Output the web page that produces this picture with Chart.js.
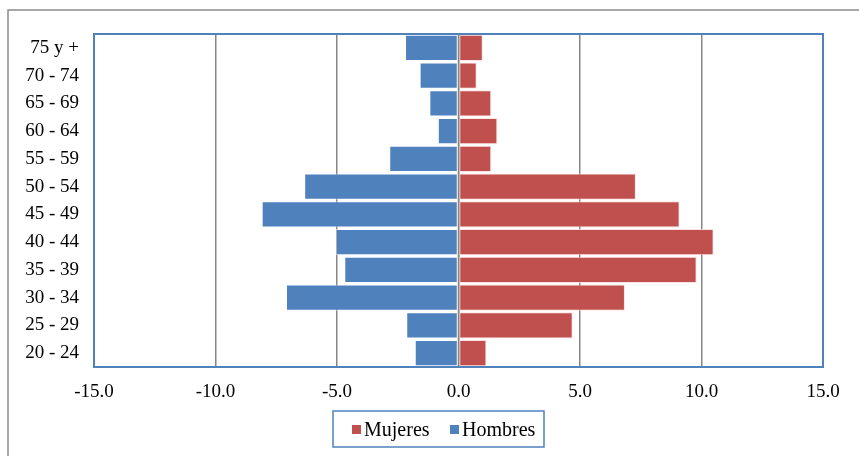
<!DOCTYPE html>
<html>
<head>
<meta charset="utf-8">
<script src="https://cdn.jsdelivr.net/npm/chart.js@4.4.1/dist/chart.umd.min.js"></script>
<style>
  html, body { margin: 0; padding: 0; background: #fff; }
  #wrap { width: 859px; height: 456px; }
</style>
</head>
<body>
<div id="wrap"><canvas id="pyramid"></canvas></div>
<script>
// age groups, top to bottom
const ageGroups = ['75 y +', '70 - 74', '65 - 69', '60 - 64', '55 - 59', '50 - 54',
                   '45 - 49', '40 - 44', '35 - 39', '30 - 34', '25 - 29', '20 - 24'];
// percentages (men shown negative)
const hombres = [-2.2, -1.6, -1.2, -0.85, -2.85, -6.35, -8.1, -5.05, -4.7, -7.1, -2.15, -1.8];
const mujeres = [1.0, 0.75, 1.35, 1.6, 1.35, 7.3, 9.1, 10.5, 9.8, 6.85, 4.7, 1.15];
const xTicks = [-15, -10, -5, 0, 5, 10, 15];

const RED = '#C0504D';
const BLUE = '#4F81BD';
const FONT = '"Liberation Serif", "Times New Roman", serif';

// frame, plot border, zero line and the boxed legend
const decorations = {
    id: 'decorations',
    afterDatasetsDraw(chart) {
        const ctx = chart.ctx;
        const a = chart.chartArea;
        const x0 = chart.scales.x.getPixelForValue(0);
        ctx.save();
        ctx.strokeStyle = '#868686';
        ctx.lineWidth = 1.5;
        ctx.beginPath();
        ctx.moveTo(x0, a.top);
        ctx.lineTo(x0, a.bottom);
        ctx.stroke();
        ctx.strokeStyle = BLUE;
        ctx.lineWidth = 2;
        ctx.strokeRect(a.left, a.top, a.right - a.left, a.bottom - a.top);
        ctx.restore();
    },
    afterDraw(chart) {
        const ctx = chart.ctx;
        ctx.save();
        // outer frame
        ctx.strokeStyle = '#8a8a8a';
        ctx.lineWidth = 1.5;
        ctx.strokeRect(8, 10, 880, 480);
        // legend box
        ctx.strokeStyle = BLUE;
        ctx.lineWidth = 1.5;
        ctx.strokeRect(333, 411, 211, 36);
        ctx.font = '20px ' + FONT;
        ctx.textBaseline = 'middle';
        const items = [chart.data.datasets[1], chart.data.datasets[0]];
        const starts = [352, 450];
        items.forEach((ds, i) => {
            const x = starts[i];
            ctx.fillStyle = ds.backgroundColor;
            ctx.fillRect(x, 425, 9, 9);
            ctx.fillStyle = '#000';
            ctx.fillText(ds.label, x + 12, 431);
        });
        ctx.restore();
    }
};

const ctx = document.getElementById('pyramid').getContext('2d');
new Chart(ctx, {
    type: 'bar',
    data: {
        labels: ageGroups,
        datasets: [{
            label: 'Hombres',
            data: hombres,
            backgroundColor: BLUE,
            borderColor: 'rgba(255,255,255,0.6)',
            borderWidth: 1,
            borderSkipped: false
        }, {
            label: 'Mujeres',
            data: mujeres,
            backgroundColor: RED,
            borderColor: 'rgba(255,220,220,0.8)',
            borderWidth: 1,
            borderSkipped: false
        }]
    },
    options: {
        indexAxis: 'y',
        responsive: true,
        maintainAspectRatio: false,
        animation: false,
        devicePixelRatio: 1,
        layout: { padding: { top: 34, right: 36, bottom: 49, left: 0 } },
        datasets: { bar: { barPercentage: 0.94, categoryPercentage: 1 } },
        plugins: { legend: { display: false }, tooltip: { enabled: false } },
        scales: {
            x: {
                min: -15,
                max: 15,
                afterFit: s => { s.height = 40; },
                afterBuildTicks: s => { s.ticks = xTicks.map(v => ({ value: v })); },
                grid: { color: '#868686', lineWidth: 1.5, drawTicks: false },
                border: { display: false },
                ticks: {
                    padding: 14,
                    color: '#000',
                    font: { family: FONT, size: 19 },
                    callback: v => Number(v).toFixed(1)
                }
            },
            y: {
                stacked: true,
                afterFit: s => { s.width = 94; },
                grid: { display: false, drawTicks: false },
                border: { display: false },
                ticks: {
                    padding: 15,
                    color: '#000',
                    font: { family: FONT, size: 19 }
                }
            }
        }
    },
    plugins: [decorations]
});
</script>
</body>
</html>
